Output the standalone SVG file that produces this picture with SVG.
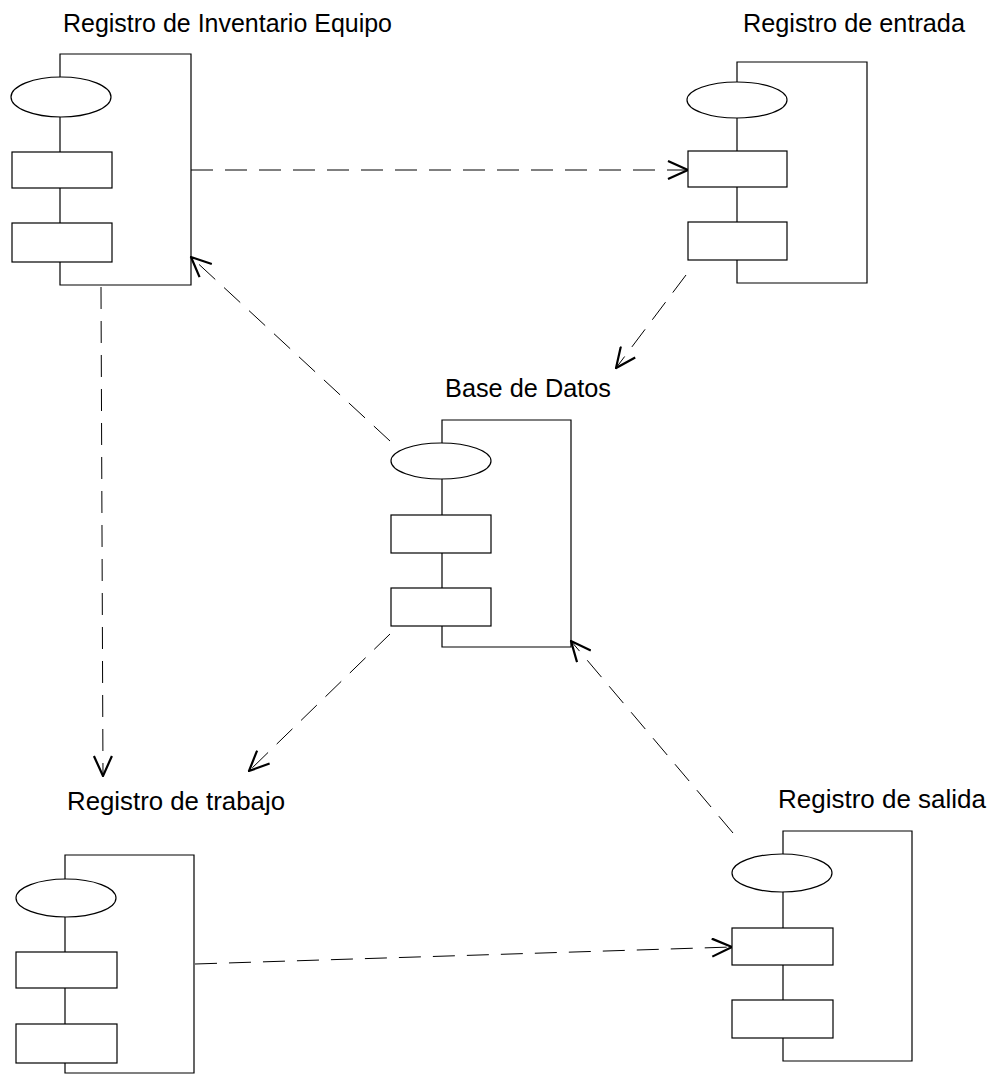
<svg xmlns="http://www.w3.org/2000/svg" width="995" height="1084" viewBox="0 0 995 1084">
<style>
.frame{fill:none;stroke:#000;stroke-width:1.2}
.part{fill:#fff;stroke:#000;stroke-width:1.2}
.lbl{font-family:"Liberation Sans",Arial,sans-serif;font-size:25px;fill:#000}
.conn{fill:none;stroke:#000;stroke-width:1;stroke-dasharray:22 12}
</style>
<defs>
<marker id="arr" viewBox="0 0 22 20" refX="21" refY="10" markerWidth="22" markerHeight="20" markerUnits="userSpaceOnUse" orient="auto">
<path d="M1,1 L21,10 L1,19" fill="none" stroke="#000" stroke-width="2.2" stroke-dasharray="none"/>
</marker>
</defs>
<rect width="995" height="1084" fill="#fff"/>
<g id="connectors">
<path class="conn" d="M191,170 L688,170" marker-end="url(#arr)"/>
<path class="conn" d="M390,441 L191,257" marker-end="url(#arr)"/>
<path class="conn" d="M686,275 L616,368" marker-end="url(#arr)"/>
<path class="conn" d="M101,287 L103,776" marker-end="url(#arr)"/>
<path class="conn" d="M390,634 L249,771" marker-end="url(#arr)"/>
<path class="conn" d="M733,833 L571,641" marker-end="url(#arr)"/>
<path class="conn" d="M195,964 L732,947" marker-end="url(#arr)"/>
</g>
<g id="inventario">
<text class="lbl" x="63" y="32" textLength="329" lengthAdjust="spacingAndGlyphs">Registro de Inventario Equipo</text>
<path class="frame" d="M60,54 H191 V285 H60 Z"/>
<ellipse class="part" cx="61" cy="97" rx="50" ry="20"/>
<rect class="part" x="12" y="152" width="100" height="36"/>
<rect class="part" x="12" y="223" width="100" height="39"/>
</g>
<g id="entrada">
<text class="lbl" x="743" y="32" textLength="222" lengthAdjust="spacingAndGlyphs">Registro de entrada</text>
<path class="frame" d="M737,62 H867 V283 H737 Z"/>
<ellipse class="part" cx="737" cy="100" rx="50" ry="18"/>
<rect class="part" x="688" y="151" width="99" height="36"/>
<rect class="part" x="688" y="222" width="99" height="38"/>
</g>
<g id="basedatos">
<text class="lbl" x="445" y="397" textLength="166" lengthAdjust="spacingAndGlyphs">Base de Datos</text>
<path class="frame" d="M442,420 H571 V647 H442 Z"/>
<ellipse class="part" cx="441" cy="461" rx="50" ry="18"/>
<rect class="part" x="391" y="515" width="100" height="38"/>
<rect class="part" x="391" y="588" width="100" height="38"/>
</g>
<g id="trabajo">
<text class="lbl" x="67" y="810" textLength="218" lengthAdjust="spacingAndGlyphs">Registro de trabajo</text>
<path class="frame" d="M65,855 H194 V1073 H65 Z"/>
<ellipse class="part" cx="66" cy="898" rx="50" ry="19"/>
<rect class="part" x="16" y="952" width="101" height="36"/>
<rect class="part" x="16" y="1024" width="101" height="39"/>
</g>
<g id="salida">
<text class="lbl" x="778" y="808" textLength="208" lengthAdjust="spacingAndGlyphs">Registro de salida</text>
<path class="frame" d="M783,831 H912 V1061 H783 Z"/>
<ellipse class="part" cx="782" cy="873" rx="50" ry="19"/>
<rect class="part" x="732" y="928" width="101" height="37"/>
<rect class="part" x="732" y="1000" width="101" height="38"/>
</g>
</svg>
